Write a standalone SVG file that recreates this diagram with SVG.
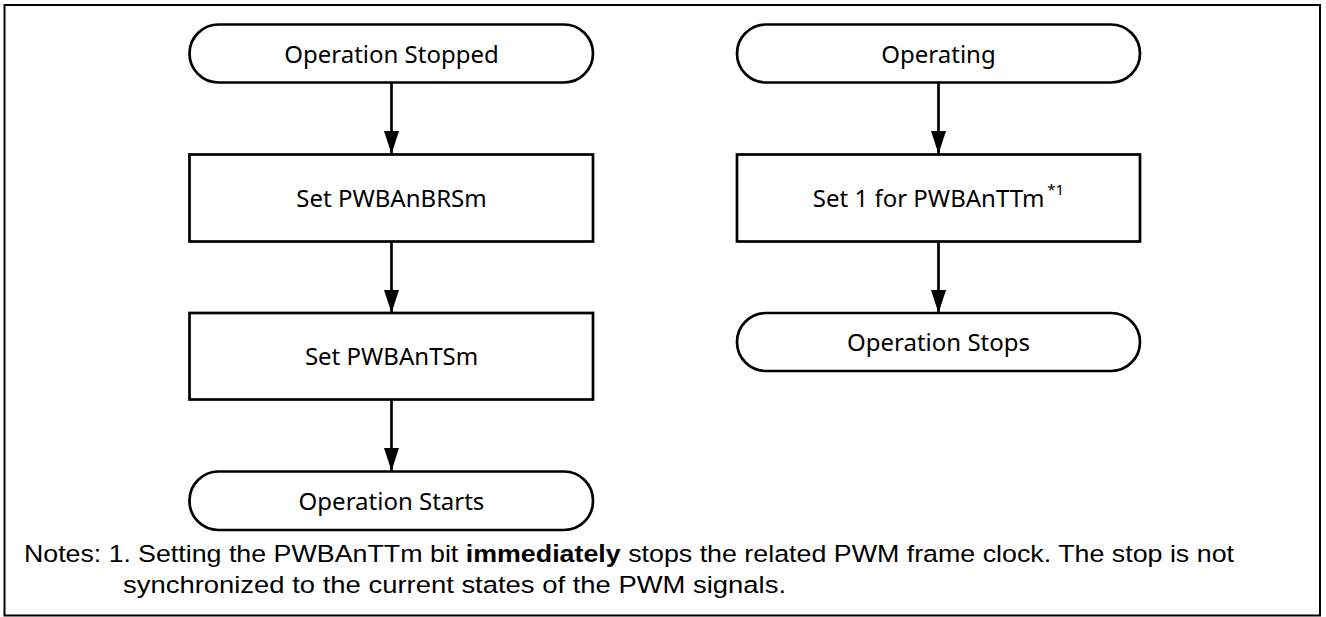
<svg xmlns="http://www.w3.org/2000/svg" width="1326" height="617" viewBox="0 0 1326 617">
<defs>
<style>
.frame{fill:none;stroke:#000;stroke-width:2}
.shape{fill:#fff;stroke:#000;stroke-width:2.7}
.lbl{font-family:"Noto Sans","Open Sans",sans-serif;font-size:24px;fill:#000;text-anchor:middle}
.sup{font-size:15px}
.conn{stroke:#000;stroke-width:2.7;fill:none}
.note{font-family:"Liberation Sans",Arial,sans-serif;font-size:24.5px;fill:#000}
</style>
<marker id="ah" markerWidth="23" markerHeight="15" refX="23" refY="7.5" orient="auto" markerUnits="userSpaceOnUse" viewBox="0 0 23 15">
<path d="M0,0 L23,7.5 L0,15 Z" fill="#000"/>
</marker>
</defs>
<rect width="1326" height="617" fill="#fff"/>
<rect class="frame" x="4.5" y="5" width="1315.5" height="610.5"/>
<g id="connectors">
<line class="conn" x1="391.5" y1="82" x2="391.5" y2="154" marker-end="url(#ah)"/>
<line class="conn" x1="391.5" y1="241" x2="391.5" y2="313" marker-end="url(#ah)"/>
<line class="conn" x1="391.5" y1="399" x2="391.5" y2="471" marker-end="url(#ah)"/>
<line class="conn" x1="938.5" y1="82" x2="938.5" y2="154" marker-end="url(#ah)"/>
<line class="conn" x1="938.5" y1="241" x2="938.5" y2="313" marker-end="url(#ah)"/>
</g>
<g id="op-stopped">
<rect class="shape" x="189.5" y="24.5" width="403.5" height="58" rx="29" ry="29"/>
<text class="lbl" x="391.5" y="63">Operation Stopped</text>
</g>
<g id="set-brs">
<rect class="shape" x="189.5" y="154.5" width="403.5" height="87"/>
<text class="lbl" x="391.5" y="207">Set PWBAnBRSm</text>
</g>
<g id="set-ts">
<rect class="shape" x="189.5" y="313" width="403.5" height="86.5"/>
<text class="lbl" x="391.5" y="365">Set PWBAnTSm</text>
</g>
<g id="op-starts">
<rect class="shape" x="189.5" y="471.5" width="403.5" height="58.5" rx="29" ry="29"/>
<text class="lbl" x="391.5" y="510">Operation Starts</text>
</g>
<g id="operating">
<rect class="shape" x="737" y="24.5" width="403" height="58" rx="29" ry="29"/>
<text class="lbl" x="938.5" y="63">Operating</text>
</g>
<g id="set-tt">
<rect class="shape" x="737" y="154.5" width="403" height="87"/>
<text class="lbl" x="938.5" y="207">Set 1 for PWBAnTTm<tspan class="sup" dx="3" dy="-12">*1</tspan></text>
</g>
<g id="op-stops">
<rect class="shape" x="737" y="313" width="403" height="58" rx="29" ry="29"/>
<text class="lbl" x="938.5" y="351">Operation Stops</text>
</g>
<g id="notes">
<text class="note" x="24" y="562" textLength="107" lengthAdjust="spacingAndGlyphs">Notes: 1.</text>
<text class="note" x="138" y="562" textLength="1096" lengthAdjust="spacingAndGlyphs">Setting the PWBAnTTm bit <tspan font-weight="bold">immediately</tspan> stops the related PWM frame clock. The stop is not</text>
<text class="note" x="123" y="593" textLength="663" lengthAdjust="spacingAndGlyphs">synchronized to the current states of the PWM signals.</text>
</g>
</svg>
